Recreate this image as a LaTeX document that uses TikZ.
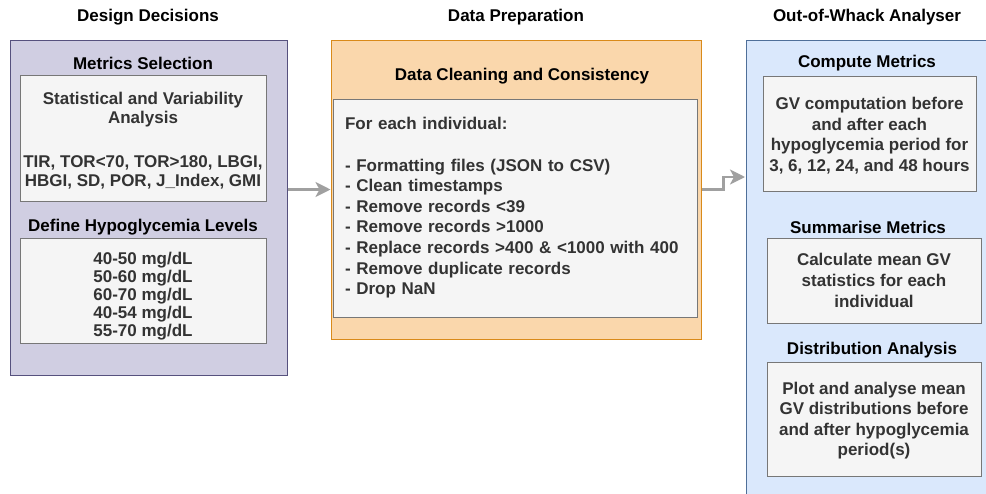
\documentclass[tikz,border=0pt]{standalone}
\usepackage{fontspec}
\setmainfont{Liberation Sans}
\usetikzlibrary{arrows.meta}
\definecolor{pfill}{HTML}{D0CEE2}
\definecolor{pdraw}{HTML}{56517E}
\definecolor{ofill}{HTML}{FAD7AC}
\definecolor{odraw}{HTML}{D98A1A}
\definecolor{bfill}{HTML}{DAE8FC}
\definecolor{bdraw}{HTML}{4F6F99}
\definecolor{infill}{HTML}{F5F5F5}
\definecolor{indraw}{HTML}{777777}
\definecolor{intext}{HTML}{333333}
\definecolor{arrcol}{HTML}{A0A0A0}
\begin{document}
\begin{tikzpicture}[x=1pt,y=-1pt,
  grp/.style={rectangle, line width=1pt, inner sep=0pt},
  inbox/.style={rectangle, draw=indraw, fill=infill, text=intext, line width=1pt,
    inner sep=0pt, align=center, font=\bfseries\fontsize{17}{20.6}\selectfont},
  intxt/.style={text=intext, align=center, inner sep=0pt},
  ttl/.style={font=\bfseries\fontsize{17}{20.6}\selectfont, text=black, inner sep=0pt},
  arr/.style={draw=arrcol, line width=2.6pt, -{Stealth[length=15pt,width=15pt,inset=4pt]}}
]
\useasboundingbox (0,0) rectangle (986,493);
\fill[white] (0,0) rectangle (986,493);

% column titles
\node[ttl] (t1) at (148,17) {Design Decisions};
\node[ttl] (t2) at (516,17) {Data Preparation};
\node[ttl] (t3) at (867,17) {Out-of-Whack Analyser};

% left group
\node[grp, draw=pdraw, fill=pfill, minimum width=277, minimum height=335] (dd) at (148.5,207.5) {};
\node[ttl] (h1) at (143,63) {Metrics Selection};
\node[inbox, minimum width=246, minimum height=126] (ms) at (143,138) {};
\node[intxt, font=\bfseries\fontsize{17}{19.5}\selectfont] (mst) at (143,140.5)
  {Statistical and Variability\\Analysis\\[24pt]TIR, TOR<70, TOR>180, LBGI,\\HBGI, SD, POR, J\_Index, GMI};
\node[ttl] (h2) at (143,227) {Define Hypoglycemia Levels};
\node[inbox, minimum width=246, minimum height=105] (hl) at (143,290.5) {};
\node[intxt, font=\bfseries\fontsize{17}{18.1}\selectfont] (hlt) at (143,296)
  {40-50 mg/dL\\50-60 mg/dL\\60-70 mg/dL\\40-54 mg/dL\\55-70 mg/dL};

% middle group
\node[grp, draw=odraw, fill=ofill, minimum width=370, minimum height=299] (mid) at (516,189.5) {};
\node[ttl] (h3) at (522,76) {Data Cleaning and Consistency};
\node[inbox, minimum width=364, minimum height=218, align=left, text width=340] (dc) at (515,208)
  {For each individual:\\[20.6pt]
   - Formatting files (JSON to CSV)\\
   - Clean timestamps\\
   - Remove records <39\\
   - Remove records >1000\\
   - Replace records >400 \& <1000 with 400\\
   - Remove duplicate records\\
   - Drop NaN};

% right group (runs off the page)
\begin{scope}
\clip (0,0) rectangle (986,493);
\node[grp, draw=bdraw, fill=bfill, minimum width=260, minimum height=480] (oa) at (876,280) {};
\end{scope}
\node[ttl] (h4) at (867,63) {Compute Metrics};
\node[inbox, minimum width=213, minimum height=115] (cm) at (869.5,133.5) {};
\node[intxt, font=\bfseries\fontsize{17}{20.6}\selectfont] (cmt) at (869.5,135.5)
  {GV computation before\\and after each\\hypoglycemia period for\\3, 6, 12, 24, and 48 hours};
\node[ttl] (h5) at (868,227) {Summarise Metrics};
\node[inbox, minimum width=214, minimum height=85] (sm) at (874,280.5)
  {Calculate mean GV\\statistics for each\\individual};
\node[ttl] (h6) at (872,350) {Distribution Analysis};
\node[inbox, minimum width=214, minimum height=114] (da) at (874,419) {};
\node[intxt, font=\bfseries\fontsize{17}{20.6}\selectfont] (dat) at (874,420.5)
  {Plot and analyse mean\\GV distributions before\\and after hypoglycemia\\period(s)};

% connectors
\coordinate (oaIn) at (745,177);
\draw[arr] (dd.east |- mid.west) -- (mid.west);
\draw[arr] (mid.east) -- ++(22,0) |- (oaIn);
\end{tikzpicture}
\end{document}
